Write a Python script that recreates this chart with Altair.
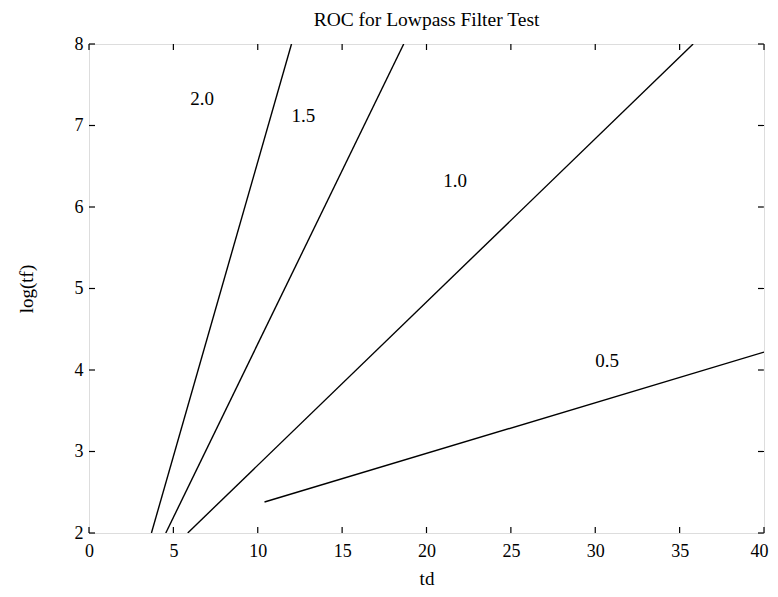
import altair as alt
import pandas as pd

# Data
series = ["2.0", "1.5", "1.0", "0.5"]
td_start = [3.7, 4.55, 5.85, 10.4]
td_end = [12.0, 18.65, 35.8, 40.0]
tf_start = [2.0, 2.0, 2.0, 2.38]
tf_end = [8.0, 8.0, 8.0, 4.22]
label_td = [6.7, 12.7, 21.7, 30.7]
label_tf = [7.32, 7.12, 6.32, 4.11]
x_ticks = [0, 5, 10, 15, 20, 25, 30, 35, 40]
y_ticks = [2, 3, 4, 5, 6, 7, 8]

W, H = 675, 489
FONT = "Liberation Serif"

rows = []
for s, a, b, c, d in zip(series, td_start, td_end, tf_start, tf_end):
    rows.append({"series": s, "td": a, "tf": c, "order": 0})
    rows.append({"series": s, "td": b, "tf": d, "order": 1})
lines_df = pd.DataFrame(rows)
labels_df = pd.DataFrame({"series": series, "td": label_td, "tf": label_tf})
xt_df = pd.DataFrame({"td": x_ticks})
yt_df = pd.DataFrame({"tf": y_ticks})

xscale = alt.Scale(domain=[0, 40], nice=False, zero=False)
yscale = alt.Scale(domain=[2, 8], nice=False, zero=False)

x_axis = alt.Axis(values=x_ticks, format="d", ticks=False, domain=False, grid=False,
                  labelFont=FONT, labelFontSize=18, labelPadding=9, labelFlush=False,
                  labelOffset={"condition": {"test": "datum.value == 40", "value": -5}, "value": 0},
                  labelColor="black", title="td", titleFont=FONT,
                  titleFontSize=19, titleFontWeight="normal", titleColor="black",
                  titlePadding=9)
y_axis = alt.Axis(values=y_ticks, format="d", ticks=False, domain=False, grid=False,
                  labelFont=FONT, labelFontSize=18, labelPadding=6, labelFlush=False,
                  labelColor="black", title="log(tf)", titleFont=FONT,
                  titleFontSize=19, titleFontWeight="normal", titleColor="black",
                  titlePadding=38)

lines = alt.Chart(lines_df).mark_line(color="black", strokeWidth=1.4, clip=True).encode(
    x=alt.X("td:Q", scale=xscale, axis=x_axis),
    y=alt.Y("tf:Q", scale=yscale, axis=y_axis),
    detail="series:N",
    order="order:Q",
)

labels = alt.Chart(labels_df).mark_text(font=FONT, fontSize=19, color="black").encode(
    x=alt.X("td:Q", scale=xscale),
    y=alt.Y("tf:Q", scale=yscale),
    text="series:N",
)

tick_style = dict(color="black", strokeWidth=1.2)
bottom_ticks = alt.Chart(xt_df).mark_rule(**tick_style).encode(
    x=alt.X("td:Q", scale=xscale), y=alt.value(H), y2=alt.value(H - 6))
top_ticks = alt.Chart(xt_df).mark_rule(**tick_style).encode(
    x=alt.X("td:Q", scale=xscale), y=alt.value(0), y2=alt.value(6))
left_ticks = alt.Chart(yt_df).mark_rule(**tick_style).encode(
    y=alt.Y("tf:Q", scale=yscale), x=alt.value(0), x2=alt.value(6))
right_ticks = alt.Chart(yt_df).mark_rule(**tick_style).encode(
    y=alt.Y("tf:Q", scale=yscale), x=alt.value(W), x2=alt.value(W - 6))

chart = alt.layer(lines, labels, bottom_ticks, top_ticks, left_ticks, right_ticks).properties(
    width=W, height=H,
    autosize="none",
    padding={"left": 81, "top": 36, "right": 6, "bottom": 64},
    title=alt.TitleParams("ROC for Lowpass Filter Test", font=FONT, fontSize=19.5,
                          fontWeight="normal", color="black", anchor="middle", offset=5),
).configure_view(stroke="black", strokeWidth=1.8).configure(background="white")

chart.save("out.html", embed_options={"renderer": "svg", "actions": False})
